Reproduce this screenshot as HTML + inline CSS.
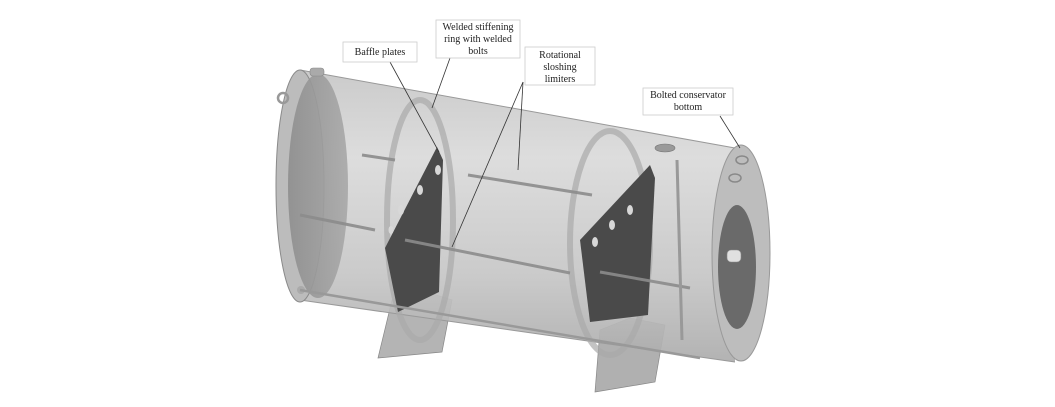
<!DOCTYPE html>
<html><head><meta charset="utf-8"><style>
html,body{margin:0;padding:0;background:#fff;width:1055px;height:407px;overflow:hidden}
svg{display:block}
text{font-family:"Liberation Serif",serif;font-size:10px;fill:#222}
</style></head><body>
<svg width="1055" height="407" viewBox="0 0 1055 407" xmlns="http://www.w3.org/2000/svg">
<defs>
<linearGradient id="cyl" x1="0" y1="0" x2="0" y2="1">
<stop offset="0" stop-color="#c6c6c6"/><stop offset="0.3" stop-color="#dadada"/><stop offset="0.7" stop-color="#c6c6c6"/><stop offset="1" stop-color="#acacac"/>
</linearGradient>
<linearGradient id="endl" x1="0" y1="0" x2="1" y2="0">
<stop offset="0" stop-color="#8e8e8e"/><stop offset="1" stop-color="#a8a8a8"/>
</linearGradient>
</defs>
<polygon points="378,358 442,352 452,300 420,290 392,300" fill="#b4b4b4" stroke="#888" stroke-width="0.7"/>
<polygon points="595,392 655,382 665,325 630,318 600,330" fill="#b0b0b0" stroke="#888" stroke-width="0.7"/>
<path d="M300,70 L735,148 L735,362 L300,300 Z" fill="url(#cyl)" opacity="0.92"/>
<line x1="300" y1="70" x2="735" y2="148" stroke="#999"/>
<line x1="300" y1="300" x2="735" y2="362" stroke="#999"/>
<ellipse cx="300" cy="186" rx="24" ry="116" fill="#bcbcbc" stroke="#8a8a8a"/>
<ellipse cx="318" cy="186" rx="30" ry="112" fill="url(#endl)" opacity="0.9"/>
<rect x="310" y="68" width="14" height="8" rx="3" fill="#aaa" stroke="#888" stroke-width="0.6"/>
<circle cx="283" cy="98" r="5" fill="none" stroke="#999" stroke-width="2.5"/>
<circle cx="301" cy="290" r="4" fill="#aaa"/>
<ellipse cx="420" cy="220" rx="33" ry="120" fill="none" stroke="#aaa" stroke-width="6" opacity="0.7"/>
<ellipse cx="610" cy="243" rx="40" ry="112" fill="none" stroke="#aaa" stroke-width="6" opacity="0.7"/>
<polygon points="437,147 443,160 439,292 398,312 385,248" fill="#4a4a4a"/>
<polygon points="650,165 655,178 648,315 590,322 580,240" fill="#4a4a4a"/>
<g fill="#d8d8d8">
<ellipse cx="438" cy="170" rx="3" ry="5"/><ellipse cx="420" cy="190" rx="3" ry="5"/><ellipse cx="401" cy="210" rx="3" ry="5"/><ellipse cx="391" cy="230" rx="2.5" ry="4"/>
<ellipse cx="630" cy="210" rx="3" ry="5"/><ellipse cx="612" cy="225" rx="3" ry="5"/><ellipse cx="595" cy="242" rx="3" ry="5"/>
</g>
<g stroke="#8c8c8c" stroke-width="3" opacity="0.9">
<line x1="468" y1="175" x2="592" y2="195"/>
<line x1="405" y1="240" x2="570" y2="273"/>
<line x1="600" y1="272" x2="690" y2="288"/>
<line x1="300" y1="215" x2="375" y2="230"/>
<line x1="362" y1="155" x2="395" y2="160"/>
</g>
<line x1="677" y1="160" x2="682" y2="340" stroke="#999" stroke-width="3"/>
<line x1="300" y1="290" x2="700" y2="358" stroke="#999" stroke-width="2.5"/>
<ellipse cx="665" cy="148" rx="10" ry="4" fill="#9a9a9a" stroke="#777" stroke-width="0.6"/>
<ellipse cx="741" cy="253" rx="29" ry="108" fill="#bdbdbd" stroke="#999"/>
<ellipse cx="737" cy="267" rx="19" ry="62" fill="#6a6a6a"/>
<rect x="727" y="250" width="14" height="12" rx="4" fill="#e0e0e0" stroke="#888" stroke-width="0.6"/>
<ellipse cx="742" cy="160" rx="6" ry="4" fill="none" stroke="#888" stroke-width="1.5"/>
<ellipse cx="735" cy="178" rx="6" ry="4" fill="none" stroke="#888" stroke-width="1.5"/>
<g stroke="#333" stroke-width="0.8" fill="none">
<line x1="390" y1="62" x2="439" y2="152"/>
<line x1="450" y1="58" x2="432" y2="108"/>
<line x1="523" y1="82" x2="518" y2="170"/>
<line x1="523" y1="82" x2="452" y2="247"/>
<line x1="720" y1="116" x2="740" y2="148"/>
</g>
<g fill="#fff" stroke="#ccc" stroke-width="0.8">
<rect x="343" y="42" width="74" height="20"/>
<rect x="436" y="20" width="84" height="38"/>
<rect x="525" y="47" width="70" height="38"/>
<rect x="643" y="88" width="90" height="27"/>
</g>
<text x="380" y="55" text-anchor="middle">Baffle plates</text>
<text x="478" y="30" text-anchor="middle">Welded stiffening</text>
<text x="478" y="42" text-anchor="middle">ring with welded</text>
<text x="478" y="54" text-anchor="middle">bolts</text>
<text x="560" y="58" text-anchor="middle">Rotational</text>
<text x="560" y="70" text-anchor="middle">sloshing</text>
<text x="560" y="82" text-anchor="middle">limiters</text>
<text x="688" y="98" text-anchor="middle">Bolted conservator</text>
<text x="688" y="110" text-anchor="middle">bottom</text>
</svg>
</body></html>
